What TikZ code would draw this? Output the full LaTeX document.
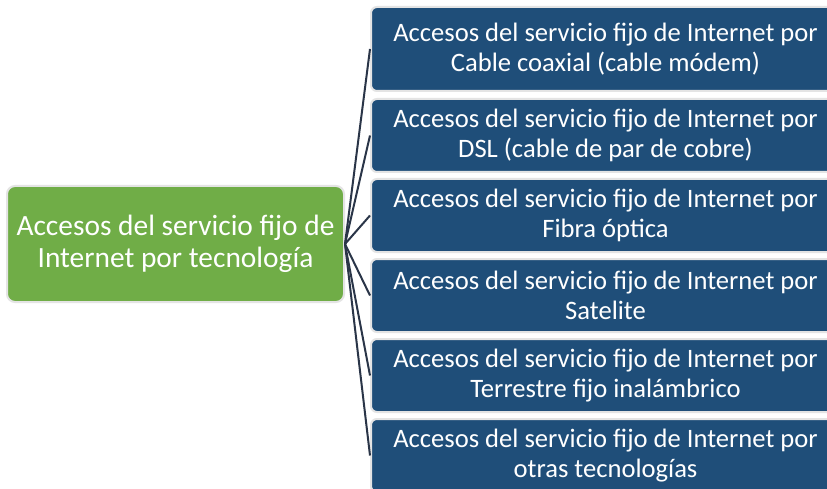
\documentclass[tikz,border=0pt]{standalone}
\usepackage{fontspec}
\setmainfont{Carlito}
\definecolor{verde}{HTML}{70AD47}
\definecolor{azul}{HTML}{1F4E79}
\definecolor{linea}{HTML}{2A3548}
\definecolor{borde}{HTML}{E4E4E4}
\begin{document}
\begin{tikzpicture}[x=1pt,y=-1pt,
    raiz/.style={fill=verde, draw=borde, line width=2pt, rounded corners=8pt,
      text=white, align=center, inner sep=0pt, minimum width=337pt, minimum height=116pt,
      font=\fontsize{29.4}{32}\selectfont},
    hoja/.style={fill=azul, draw=borde, line width=2pt, rounded corners=6pt,
      text=white, align=center, inner sep=0pt, minimum width=469pt, minimum height=73pt,
      font=\fontsize{26.6}{30}\selectfont},
    rama/.style={draw=linea, line width=2pt}]

      \clip (0,0) rectangle (827,489);
      \fill[white] (0,0) rectangle (827,489);

      \node[raiz] (t) at (175.5,244) {Accesos del servicio fijo de\\Internet por tecnología};

      \node[hoja, minimum height=84pt] (cab) at (605.5,49) {Accesos del servicio fijo de Internet por\\Cable coaxial (cable módem)};
      \node[hoja] (dsl) at (605.5,135.5) {Accesos del servicio fijo de Internet por\\DSL (cable de par de cobre)};
      \node[hoja] (fib) at (605.5,215.5) {Accesos del servicio fijo de Internet por\\Fibra óptica};
      \node[hoja] (sat) at (605.5,295.5) {Accesos del servicio fijo de Internet por\\Satelite};
      \node[hoja] (ter) at (605.5,375.5) {Accesos del servicio fijo de Internet por\\Terrestre fijo inalámbrico};
      \node[hoja] (otr) at (605.5,455.5) {Accesos del servicio fijo de Internet por\\otras tecnologías};

      %ramas
      \draw[rama] (t.east) -- (cab.west);
      \draw[rama] (t.east) -- (dsl.west);
      \draw[rama] (t.east) -- (fib.west);
      \draw[rama] (t.east) -- (sat.west);
      \draw[rama] (t.east) -- (ter.west);
      \draw[rama] (t.east) -- (otr.west);

    \end{tikzpicture}
\end{document}
